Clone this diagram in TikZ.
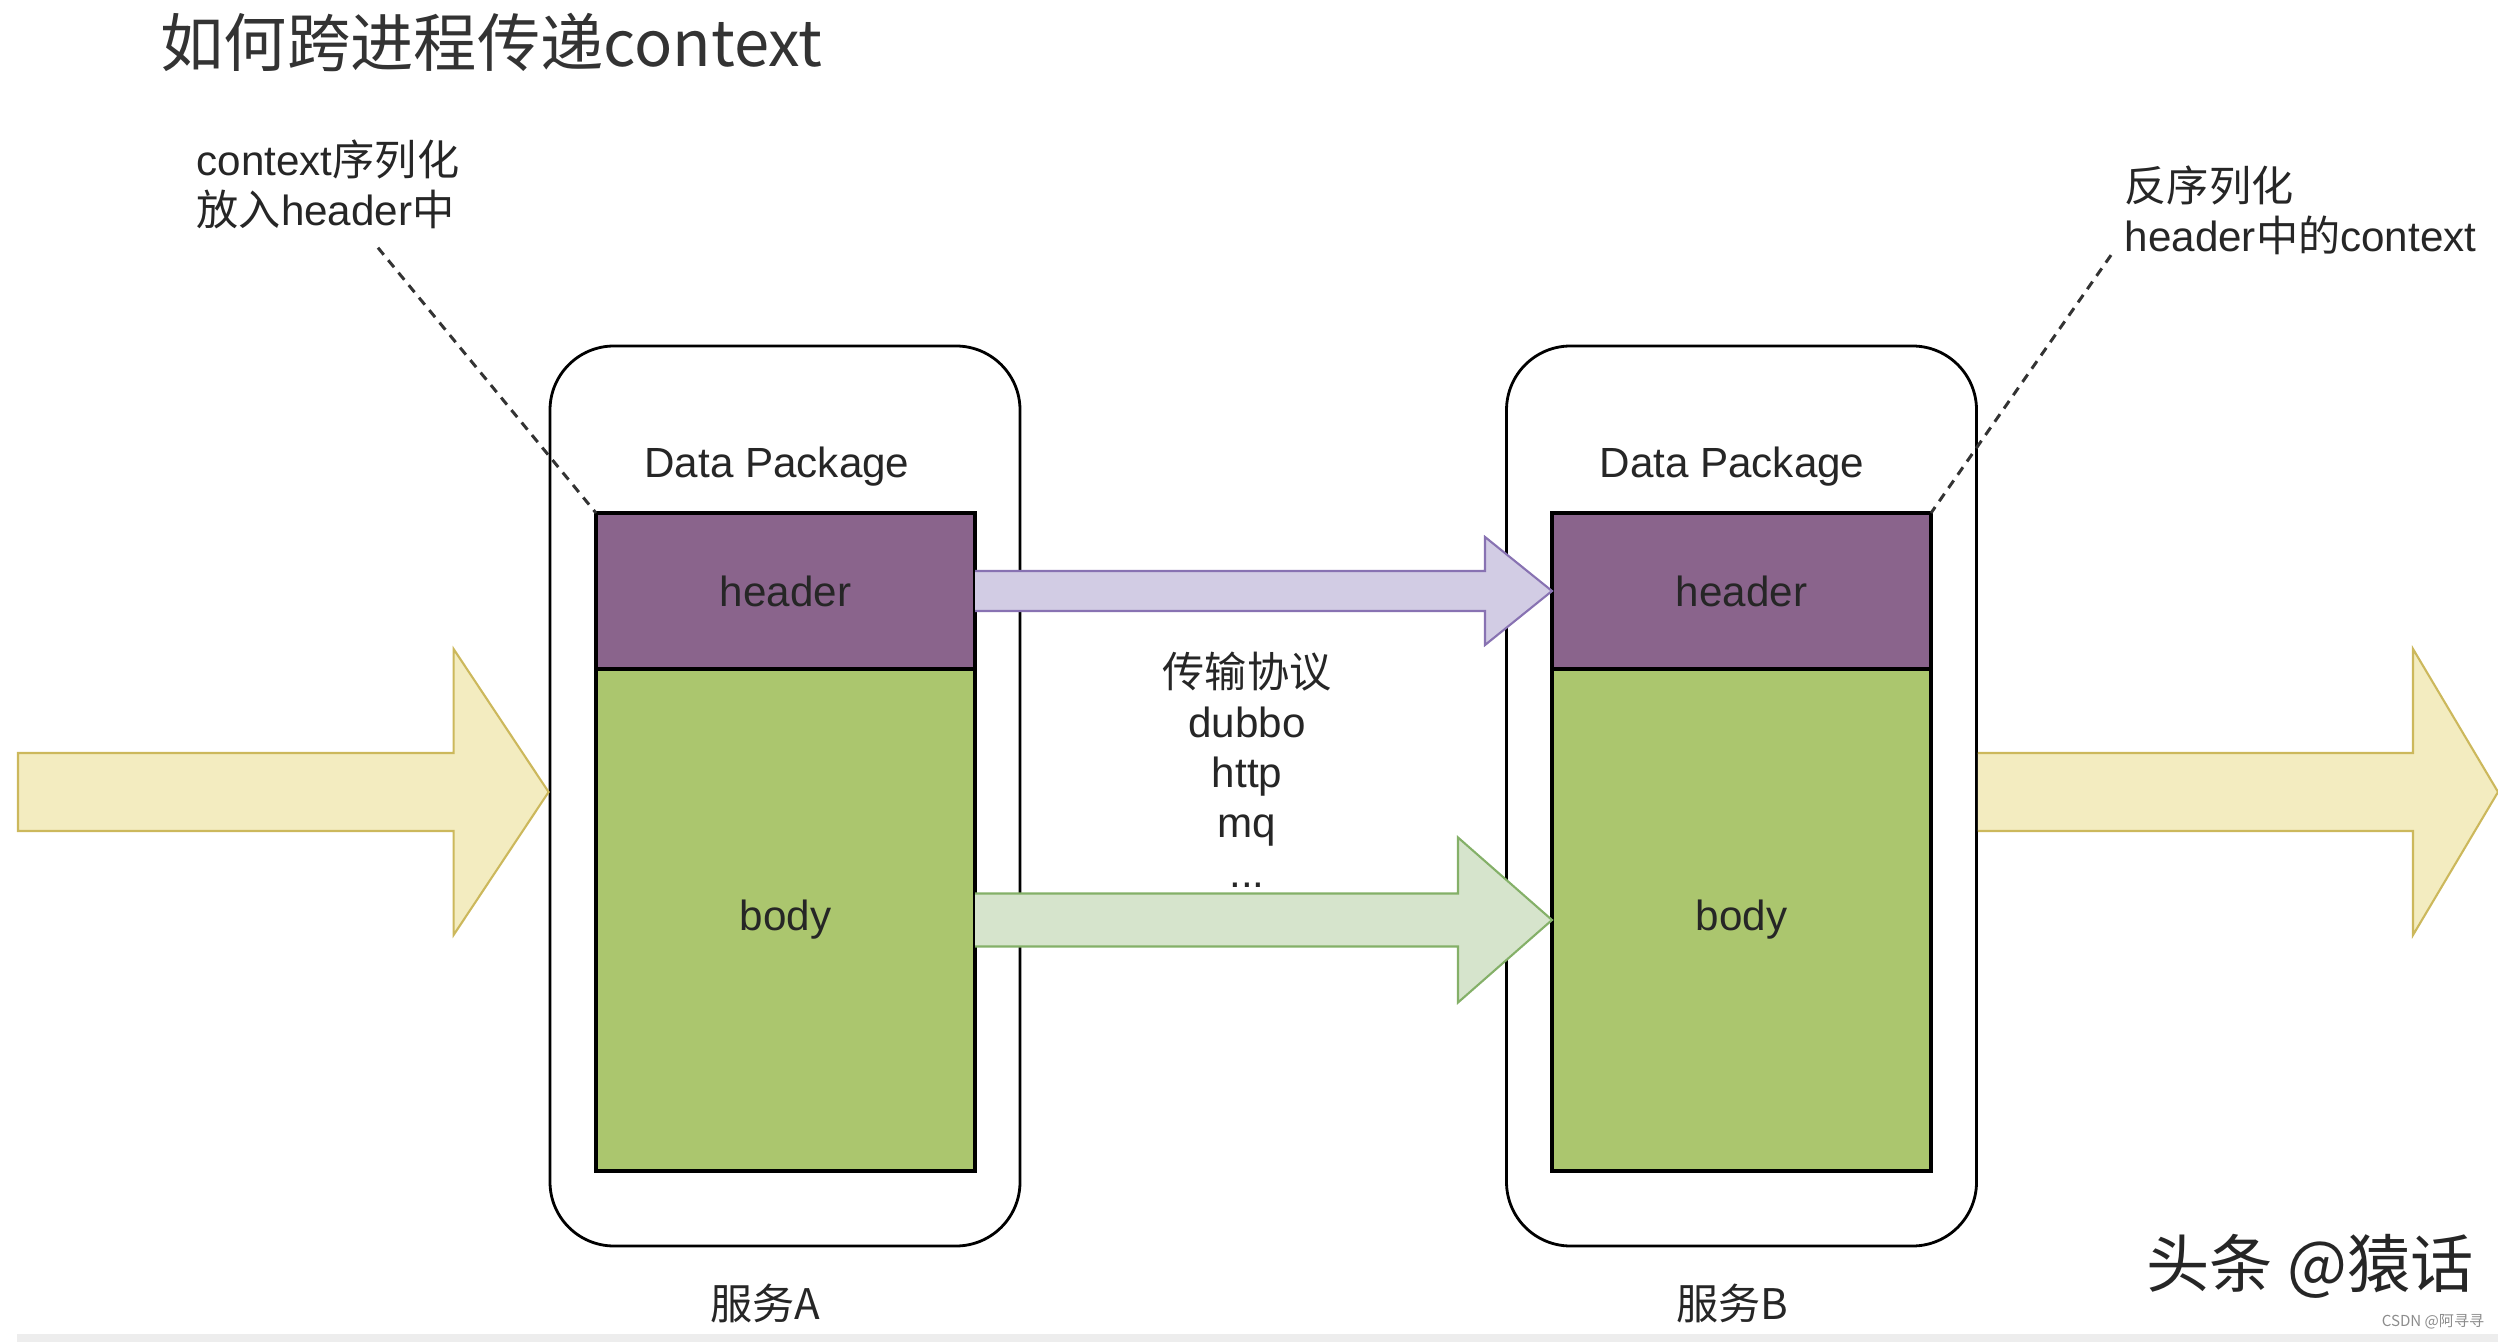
\documentclass[tikz,border=0pt]{standalone}
\usepackage{fontspec}
\setmainfont{Liberation Sans}
\newfontfamily\cjk{Noto Sans CJK SC}
\usetikzlibrary{calc}

\definecolor{hdrfill}{RGB}{138,100,140}
\definecolor{bodyfill}{RGB}{171,198,110}
\definecolor{hdrflowfill}{RGB}{210,204,228}
\definecolor{hdrflowline}{RGB}{136,114,178}
\definecolor{bodyflowfill}{RGB}{214,228,204}
\definecolor{bodyflowline}{RGB}{132,176,104}
\definecolor{feedfill}{RGB}{243,236,192}
\definecolor{feedline}{RGB}{204,184,92}

\begin{document}
\begin{tikzpicture}[every node/.style={font=\fontsize{12}{14.2}\selectfont, text=black!85},
    pkgbox/.style={draw, line width=0.8pt, rounded corners=0.64cm, minimum width=4.7cm, minimum height=9cm},
    hdrbox/.style={draw, line width=1.4pt, fill=hdrfill, outer sep=0pt, minimum width=3.79cm, minimum height=1.56cm},
    bodybox/.style={draw, line width=1.4pt, fill=bodyfill, outer sep=0pt, minimum width=3.79cm, minimum height=5.02cm},
    note/.style={align=left, inner sep=0pt},
    leader/.style={line width=0.85pt, dash pattern=on 2.6pt off 2pt, black!80},
    hdrflow/.style={fill=hdrflowfill, draw=hdrflowline, line width=0.6pt},
    bodyflow/.style={fill=bodyflowfill, draw=bodyflowline, line width=0.6pt},
    feed/.style={fill=feedfill, draw=feedline, line width=0.6pt}]
  \useasboundingbox (0,0) rectangle (24.98,13.42);

  % title
  \node[anchor=west, inner sep=0pt, text=black!80] (title) at (1.60,12.99)
    {\cjk\fontsize{18}{22}\selectfont 如何跨进程传递context};

  % service A
  \node[pkgbox] (pkgA) at (7.85,5.46) {};
  \node at (7.77,8.75) (dpA) {Data Package};
  \node[hdrbox] (hdrA) at (7.855,7.51) {header};
  \node[bodybox, anchor=north] (bodyA) at (hdrA.south) {body};
  \node (svcA) at (7.65,0.39) {\cjk 服务A};

  % service B
  \node[pkgbox] (pkgB) at (17.415,5.46) {};
  \node at (17.32,8.75) (dpB) {Data Package};
  \node[hdrbox] (hdrB) at (17.415,7.51) {header};
  \node[bodybox, anchor=north] (bodyB) at (hdrB.south) {body};
  \node (svcB) at (17.32,0.39) {\cjk 服务B};

  % notes
  \node[note, anchor=west] (noteA) at (1.96,11.575) {context{\cjk 序列化}\\{\cjk 放入}header{\cjk 中}};
  \node[note, anchor=west] (noteB) at (21.24,11.32) {{\cjk 反序列化}\\header{\cjk 中的}context};
  \draw[leader] ($(noteA.south)+(0.5,-0.18)$) -- (hdrA.north west);
  \draw[leader] ($(noteB.south west)+(-0.13,0)$) -- (hdrB.north east);

  % incoming / outgoing
  \coordinate (inA) at (0.18,5.50);
  \coordinate (tipA) at ($(pkgA.west)+(0,0.04)$);
  \coordinate (outB) at (24.98,5.50);
  \coordinate (startB) at ($(pkgB.east)+(0,0.04)$);
  \draw[feed] ($(inA)+(0,0.39)$) -- ($(tipA)+(-0.95,0.39)$) -- ($(tipA)+(-0.95,1.43)$)
    -- (tipA) -- ($(tipA)+(-0.95,-1.43)$) -- ($(tipA)+(-0.95,-0.39)$)
    -- ($(inA)+(0,-0.39)$) -- cycle;
  \filldraw[feed] ($(startB)+(0,-0.39)$) -- ($(outB)+(-0.85,-0.39)$) -- ($(outB)+(-0.85,-1.43)$)
    -- (outB) -- ($(outB)+(-0.85,1.43)$) -- ($(outB)+(-0.85,0.39)$) -- ($(startB)+(0,0.39)$);

  % header and body across the wire
  \filldraw[hdrflow] ($(hdrA.east)+(0,-0.2)$) -- ($(hdrB.west)+(-0.67,-0.2)$) -- ($(hdrB.west)+(-0.67,-0.54)$)
    -- (hdrB.west) -- ($(hdrB.west)+(-0.67,0.54)$) -- ($(hdrB.west)+(-0.67,0.2)$) -- ($(hdrA.east)+(0,0.2)$);
  \filldraw[bodyflow] ($(bodyA.east)+(0,-0.265)$) -- ($(bodyB.west)+(-0.94,-0.265)$) -- ($(bodyB.west)+(-0.94,-0.825)$)
    -- (bodyB.west) -- ($(bodyB.west)+(-0.94,0.825)$) -- ($(bodyB.west)+(-0.94,0.265)$) -- ($(bodyA.east)+(0,0.265)$);
  \node[align=center] (proto) at (12.47,5.72) {{\cjk 传输协议}\\dubbo\\http\\mq\\...};

  % marks at the foot
  \fill[black!7] (0.17,0) rectangle (24.98,0.08);
  \node (mark) at (23.10,0.76) {\cjk\fontsize{18}{22}\selectfont 头条 @猿话};
  \node[text=black!45] (csdn) at (24.33,0.20) {\cjk\fontsize{4.3}{5}\selectfont CSDN @阿寻寻};
\end{tikzpicture}
\end{document}
